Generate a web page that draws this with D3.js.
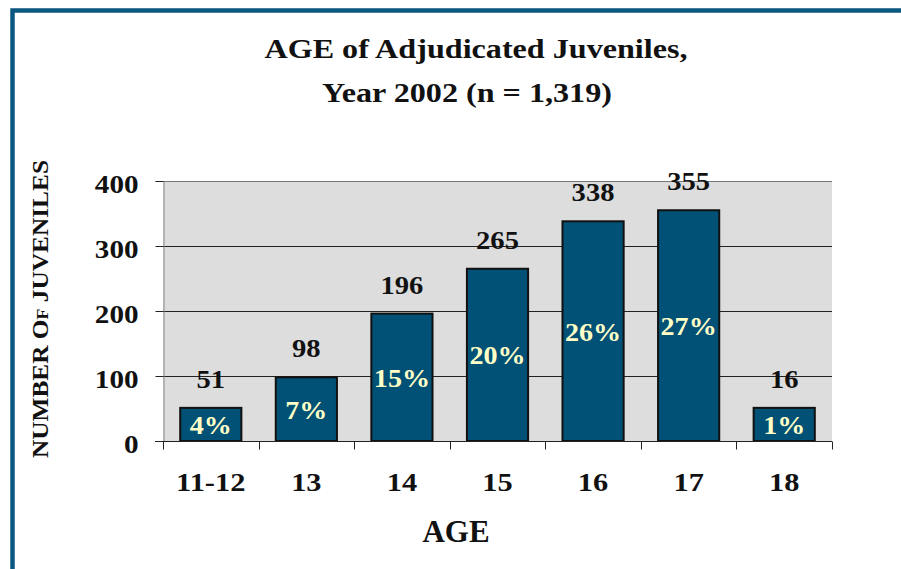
<!DOCTYPE html>
<html>
<head>
<meta charset="utf-8">
<script src="https://cdn.jsdelivr.net/npm/d3@7/dist/d3.min.js"></script>
<style>
  html, body { margin: 0; padding: 0; background: #ffffff; }
  svg { display: block; }
  text { font-family: "Liberation Serif", "Times New Roman", Times, serif; font-weight: bold; }
</style>
</head>
<body>
<svg id="chart" width="901" height="569"></svg>
<script>
// ---- data ----
const categories = ["11-12", "13", "14", "15", "16", "17", "18"];
const countLabels = [51, 98, 196, 265, 338, 355, 16];      // value printed above each bar
const barHeights = [51, 98, 196, 265, 338, 355, 51];       // bar height as drawn in the picture
const percents = ["4%", "7%", "15%", "20%", "26%", "27%", "1%"];
const yTicks = [0, 100, 200, 300, 400];
const titleLines = ["AGE of Adjudicated Juveniles,", "Year 2002 (n = 1,319)"];
const xTitle = "AGE";
const yTitle = "NUMBER Of JUVENILES";

const FONT = '"Liberation Serif", "Times New Roman", Times, serif';

// widen glyphs horizontally (reference face is wider than Liberation Serif)
function stretch(sel, k) {
  sel.each(function () {
    const w = this.getComputedTextLength();
    this.setAttribute("textLength", (w * k).toFixed(1));
    this.setAttribute("lengthAdjust", "spacingAndGlyphs");
  });
}

// ---- layout ----
const svg = d3.select("#chart");
const plot = { left: 163, right: 832, top: 181, bottom: 441 };

const x = d3.scaleBand()
  .domain(categories)
  .range([plot.left, plot.right])
  .paddingInner(0.36)
  .paddingOuter(0.18);

const y = d3.scaleLinear()
  .domain([0, 400])
  .range([plot.bottom, plot.top]);

// frame
svg.append("path")
  .attr("d", `M12.5,569 L12.5,10.5 L901,10.5`)
  .attr("fill", "none")
  .attr("stroke", "#0b5780")
  .attr("stroke-width", 4.5);

// title
const t1 = svg.append("text")
  .attr("x", 476).attr("y", 58)
  .attr("text-anchor", "middle")
  .attr("font-size", 27)
  .attr("fill", "#111")
  .text(titleLines[0]);
const t2 = svg.append("text")
  .attr("x", 467).attr("y", 102)
  .attr("text-anchor", "middle")
  .attr("font-size", 27)
  .attr("fill", "#111")
  .text(titleLines[1]);
stretch(t1, 1.19);
stretch(t2, 1.19);

// plot background
svg.append("rect")
  .attr("x", plot.left).attr("y", plot.top)
  .attr("width", plot.right - plot.left)
  .attr("height", plot.bottom - plot.top)
  .attr("fill", "#dddddd");

// gridlines
svg.append("g")
  .selectAll("line")
  .data(yTicks.filter(d => d > 0))
  .join("line")
  .attr("x1", plot.left).attr("x2", plot.right)
  .attr("y1", d => Math.round(y(d)) + 0.5)
  .attr("y2", d => Math.round(y(d)) + 0.5)
  .attr("stroke", d => d === 400 ? "#777" : "#222")
  .attr("stroke-width", 1);

// y axis
const yAxis = d3.axisLeft(y).tickValues(yTicks).tickSize(8).tickPadding(17);
const gy = svg.append("g")
  .attr("transform", `translate(${plot.left + 0.5},0)`)
  .call(yAxis)
  .attr("font-family", FONT);
gy.select(".domain").attr("stroke", "#888");
gy.selectAll(".tick line").attr("stroke", "#222");
gy.selectAll(".tick text")
  .attr("font-size", 26)
  .attr("font-family", FONT)
  .attr("font-weight", "bold")
  .attr("fill", "#111")
  .attr("dy", "0.44em");
stretch(gy.selectAll(".tick text"), 1.12);

// bars
svg.append("g")
  .selectAll("rect")
  .data(categories)
  .join("rect")
  .attr("x", d => x(d))
  .attr("y", (d, i) => y(barHeights[i]))
  .attr("width", x.bandwidth())
  .attr("height", (d, i) => y(0) - y(barHeights[i]))
  .attr("fill", "#015075")
  .attr("stroke", "#111")
  .attr("stroke-width", 2);

// x axis
const gx = svg.append("g")
  .attr("transform", `translate(0,${plot.bottom + 0.5})`);
gx.append("line")
  .attr("x1", plot.left - 8).attr("x2", plot.right)
  .attr("y1", 0).attr("y2", 0)
  .attr("stroke", "#222");
const boundaries = categories.map(d => x(d) - x.step() * x.paddingInner() / 2)
  .concat([plot.right]);
boundaries[0] = plot.left;
gx.selectAll("line.tk")
  .data(boundaries)
  .join("line")
  .attr("class", "tk")
  .attr("x1", d => Math.round(d) + 0.5).attr("x2", d => Math.round(d) + 0.5)
  .attr("y1", 0).attr("y2", 8)
  .attr("stroke", "#222");
const xl = gx.selectAll("text")
  .data(categories)
  .join("text")
  .attr("x", d => x(d) + x.bandwidth() / 2)
  .attr("y", 49)
  .attr("text-anchor", "middle")
  .attr("font-size", 26)
  .attr("fill", "#111")
  .text(d => d);
stretch(xl, 1.17);

// value labels above bars
const vl = svg.append("g")
  .selectAll("text")
  .data(categories)
  .join("text")
  .attr("x", d => x(d) + x.bandwidth() / 2)
  .attr("y", (d, i) => y(barHeights[i]) - 20)
  .attr("text-anchor", "middle")
  .attr("font-size", 26)
  .attr("fill", "#111")
  .text((d, i) => countLabels[i]);
stretch(vl, 1.1);

// percent labels inside bars
const pl = svg.append("g")
  .selectAll("text")
  .data(categories)
  .join("text")
  .attr("x", d => x(d) + x.bandwidth() / 2)
  .attr("y", (d, i) => (y(barHeights[i]) + y(0)) / 2)
  .attr("dy", "0.36em")
  .attr("text-anchor", "middle")
  .attr("font-size", 26)
  .attr("fill", "#ffffc8")
  .text((d, i) => percents[i]);
stretch(pl, 1.08);

// x title
svg.append("text")
  .attr("x", 456).attr("y", 542)
  .attr("text-anchor", "middle")
  .attr("font-size", 31)
  .attr("fill", "#111")
  .text(xTitle);

// y title
svg.append("text")
  .attr("transform", "translate(48,309) rotate(-90)")
  .attr("text-anchor", "middle")
  .attr("font-size", 24)
  .attr("font-variant", "small-caps")
  .attr("fill", "#111")
  .attr("textLength", 298)
  .attr("lengthAdjust", "spacingAndGlyphs")
  .text(yTitle);
</script>
</body>
</html>
